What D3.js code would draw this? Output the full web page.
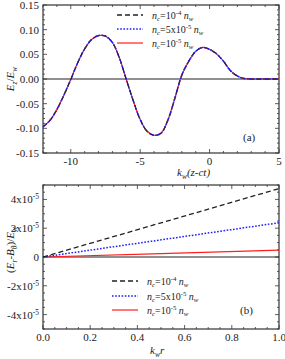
<html>
  <head>
    <style>
      body { margin: 0; background: #fff; }
    </style>
  </head>
  <body>
    <div id="chart"></div>
    <script src="https://d3js.org/d3.v7.min.js"></script>
    <script>
      // panel (a): E_z/E_w against k_w(z-ct)
      const zPos = [-12, -11.5, -11, -10.5, -10, -9.5, -9, -8.5, -8, -7.5, -7, -6.5, -6, -5.5, -5, -4.5, -4, -3.5,
                    -3, -2.5, -2, -1.5, -1, -0.5, 0, 0.5, 1, 1.5, 2, 2.5, 3, 3.5, 4, 4.5, 5];
      const ezHigh = [-0.097, -0.084, -0.062, -0.033, -0.001, 0.033, 0.061, 0.080, 0.088, 0.087, 0.074, 0.043, -0.001,
                      -0.044, -0.082, -0.106, -0.114, -0.110, -0.083, -0.039, 0.008, 0.036, 0.056, 0.064, 0.060, 0.051,
                      0.036, 0.017, 0.006, 0.001, 0, 0, 0, 0, 0];
      const ezMid = [-0.097, -0.084, -0.062, -0.033, -0.001, 0.033, 0.061, 0.080, 0.088, 0.087, 0.074, 0.043, -0.001,
                     -0.044, -0.082, -0.106, -0.114, -0.110, -0.083, -0.039, 0.008, 0.036, 0.056, 0.064, 0.060, 0.051,
                     0.036, 0.017, 0.006, 0.001, 0, 0, 0, 0, 0];
      const ezLow = [-0.097, -0.084, -0.062, -0.033, -0.001, 0.033, 0.061, 0.080, 0.088, 0.087, 0.074, 0.043, -0.001,
                     -0.044, -0.082, -0.106, -0.114, -0.110, -0.083, -0.039, 0.008, 0.036, 0.056, 0.064, 0.060, 0.051,
                     0.036, 0.017, 0.006, 0.001, 0, 0, 0, 0, 0];
      const zTicks = [-10, -5, 0, 5];
      const ezTicks = [-0.15, -0.10, -0.05, 0.00, 0.05, 0.10, 0.15];

      // panel (b): (E_r-B_theta)/E_w against k_w r
      const rPos = [0, 0.5, 1];
      const diffHigh = [0, 2.37e-5, 4.75e-5];
      const diffMid = [0, 1.19e-5, 2.38e-5];
      const diffLow = [0, 0.24e-5, 0.48e-5];
      const rTicks = [0, 0.2, 0.4, 0.6, 0.8, 1.0];
      const diffTicks = [-4e-5, -2e-5, 0, 2e-5, 4e-5];

      const legendLabels = [
        [{t: "n", i: 1}, {t: "c", s: "sub", i: 1}, {t: "=10"}, {t: "-4", s: "sup"}, {t: " "}, {t: "n", i: 1}, {t: "w", s: "sub", i: 1}],
        [{t: "n", i: 1}, {t: "c", s: "sub", i: 1}, {t: "=5x10"}, {t: "-5", s: "sup"}, {t: " "}, {t: "n", i: 1}, {t: "w", s: "sub", i: 1}],
        [{t: "n", i: 1}, {t: "c", s: "sub", i: 1}, {t: "=10"}, {t: "-5", s: "sup"}, {t: " "}, {t: "n", i: 1}, {t: "w", s: "sub", i: 1}]
      ];
      const styles = [
        {color: "#222", dash: "5,3", w: 1.3},
        {color: "#1f1fff", dash: "1.6,1.6", w: 1.5},
        {color: "#ff1f1f", dash: null, w: 1.2}
      ];

      const svg = d3.select("#chart").append("svg")
        .attr("width", 285).attr("height", 359)
        .attr("font-family", "'Liberation Serif', 'Times New Roman', Times, 'DejaVu Serif', serif")
        .style("font-family", "'Liberation Serif', 'Times New Roman', Times, 'DejaVu Serif', serif");

      function rich(text, parts) {
        let shift = 0;
        text.attr("fill", "#222");
        parts.forEach(p => {
          const target = p.s === "sub" ? 2.5 : p.s === "sup" ? -4 : 0;
          const ts = text.append("tspan").text(p.t).attr("dy", target - shift);
          shift = target;
          if (p.s) ts.attr("font-size", "0.68em");
          if (p.i) ts.attr("font-style", "italic");
        });
        return text;
      }

      function frame(x, y, xTicks, yTicks, xMinor, yMinor, xFmt, yFmt) {
        const [x0, x1] = x.range(), [y0, y1] = y.range();
        const g = svg.append("g");
        const tk = g.append("g").attr("stroke", "#333").attr("stroke-width", 0.8);
        xMinor.forEach(v => {
          const big = xTicks.some(t => Math.abs(t - v) < 1e-9);
          const len = big ? 4 : 2;
          tk.append("line").attr("x1", x(v)).attr("x2", x(v)).attr("y1", y0).attr("y2", y0 - len);
          tk.append("line").attr("x1", x(v)).attr("x2", x(v)).attr("y1", y1).attr("y2", y1 + len);
        });
        yMinor.forEach(v => {
          const big = yTicks.some(t => Math.abs(t - v) < 1e-12);
          const len = big ? 4 : 2;
          tk.append("line").attr("y1", y(v)).attr("y2", y(v)).attr("x1", x0).attr("x2", x0 + len);
          tk.append("line").attr("y1", y(v)).attr("y2", y(v)).attr("x1", x1).attr("x2", x1 - len);
        });
        g.append("rect").attr("x", x0).attr("y", y1).attr("width", x1 - x0).attr("height", y0 - y1)
          .attr("fill", "none").attr("stroke", "#333").attr("stroke-width", 1.2);
        xTicks.forEach(v => {
          g.append("text").attr("x", x(v)).attr("y", y0 + 12).attr("text-anchor", "middle")
            .attr("font-size", 11).attr("fill", "#222").text(xFmt(v));
        });
        yTicks.forEach(v => {
          const t = g.append("text").attr("x", x0 - 4).attr("y", y(v) + 4).attr("text-anchor", "end")
            .attr("font-size", 11);
          rich(t, yFmt(v));
        });
        // zero line
        g.append("line").attr("x1", x0).attr("x2", x1).attr("y1", y(0)).attr("y2", y(0))
          .attr("stroke", "#222").attr("stroke-width", 1.1);
      }

      function series(x, y, xs, ys, st, curve) {
        const line = d3.line().x((d, i) => x(xs[i])).y(d => y(d)).curve(curve);
        svg.append("path").attr("d", line(ys)).attr("fill", "none")
          .attr("stroke", st.color).attr("stroke-width", st.w)
          .attr("stroke-dasharray", st.dash);
      }

      function legend(x0, ys, tx) {
        ys.forEach((yy, i) => {
          const st = styles[i];
          svg.append("line").attr("x1", x0).attr("x2", x0 + 26).attr("y1", yy).attr("y2", yy)
            .attr("stroke", st.color).attr("stroke-width", st.w).attr("stroke-dasharray", st.dash);
          rich(svg.append("text").attr("x", tx).attr("y", yy + 3.5).attr("font-size", 10), legendLabels[i]);
        });
      }

      // ---- panel (a)
      const xa = d3.scaleLinear().domain([-12, 5]).range([43, 279]);
      const ya = d3.scaleLinear().domain([-0.15, 0.15]).range([153, 5]);
      frame(xa, ya, zTicks, ezTicks, d3.range(-12, 5.001, 1), d3.range(-0.15, 0.1501, 0.01).map(v => +v.toFixed(2)),
        v => d3.format("d")(v).replace("−", "-"), v => [{t: d3.format(".2f")(v).replace("−", "-")}]);
      series(xa, ya, zPos, ezLow, styles[2], d3.curveCatmullRom);
      series(xa, ya, zPos, ezHigh, styles[0], d3.curveCatmullRom);
      series(xa, ya, zPos, ezMid, styles[1], d3.curveCatmullRom);
      legend(117, [15, 29, 43], 152);
      svg.append("text").attr("x", 243).attr("y", 141).attr("font-size", 11).attr("fill", "#222").text("(a)");
      rich(svg.append("text").attr("x", 177).attr("y", 176).attr("font-size", 11),
        [{t: "k", i: 1}, {t: "w", s: "sub", i: 1}, {t: "(z-ct)", i: 1}]);
      rich(svg.append("text").attr("transform", "translate(14,79) rotate(-90)").attr("text-anchor", "middle")
        .attr("font-size", 11),
        [{t: "E", i: 1}, {t: "z", s: "sub", i: 1}, {t: "/"}, {t: "E", i: 1}, {t: "w", s: "sub", i: 1}]);

      // ---- panel (b)
      const xb = d3.scaleLinear().domain([0, 1]).range([43, 279]);
      const yb = d3.scaleLinear().domain([-5e-5, 5e-5]).range([329, 185]);
      frame(xb, yb, rTicks, diffTicks, d3.range(0, 1.001, 0.05).map(v => +v.toFixed(2)),
        d3.range(-5, 5.001, 0.5).map(v => +(v * 1e-5).toExponential(2)),
        v => d3.format(".1f")(v),
        v => v === 0 ? [{t: "0"}] : [{t: (v < 0 ? "-" : "") + Math.round(Math.abs(v) * 1e5) + "x10"}, {t: "-5", s: "sup"}]);
      series(xb, yb, rPos, diffLow, styles[2], d3.curveLinear);
      series(xb, yb, rPos, diffMid, styles[1], d3.curveLinear);
      series(xb, yb, rPos, diffHigh, styles[0], d3.curveLinear);
      legend(112, [281, 296, 310], 147);
      svg.append("text").attr("x", 240).attr("y", 314).attr("font-size", 11).attr("fill", "#222").text("(b)");
      rich(svg.append("text").attr("x", 150).attr("y", 354).attr("font-size", 11),
        [{t: "k", i: 1}, {t: "w", s: "sub", i: 1}, {t: "r", i: 1}]);
      rich(svg.append("text").attr("transform", "translate(14,250) rotate(-90)").attr("text-anchor", "middle")
        .attr("font-size", 11),
        [{t: "("}, {t: "E", i: 1}, {t: "r", s: "sub", i: 1}, {t: "-"}, {t: "B", i: 1}, {t: "θ", s: "sub", i: 1},
         {t: ")/"}, {t: "E", i: 1}, {t: "w", s: "sub", i: 1}]);
    </script>
  </body>
</html>
